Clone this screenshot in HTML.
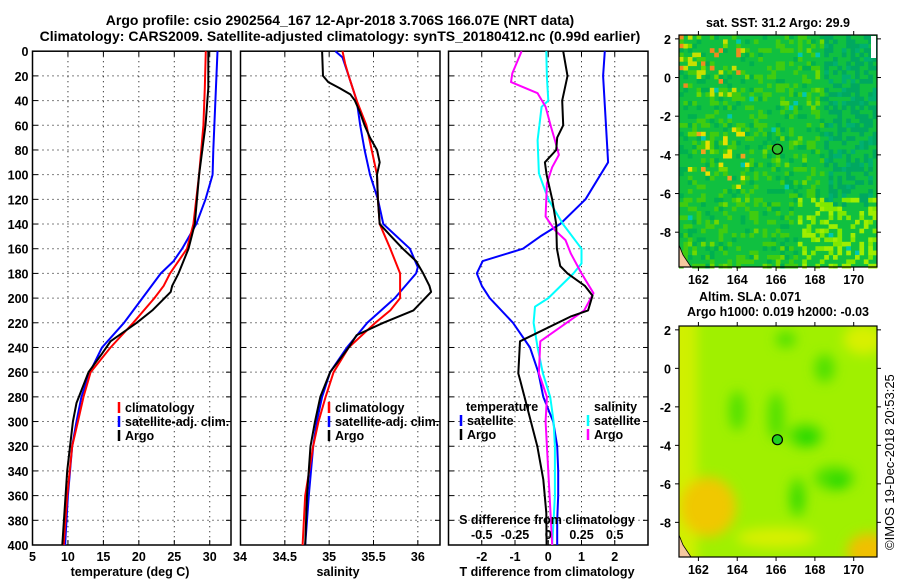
<!DOCTYPE html>
<html><head><meta charset="utf-8"><style>
body{margin:0;background:#fff}
svg{display:block;font-family:"Liberation Sans",Arial,sans-serif;font-weight:bold;font-size:12.5px}
</style></head><body>
<svg id="fig" width="900" height="580" viewBox="0 0 900 580" xmlns="http://www.w3.org/2000/svg">
<text x="340" y="25" text-anchor="middle" font-size="14">Argo profile: csio 2902564_167 12-Apr-2018 3.706S 166.07E (NRT data)</text>
<text x="340" y="41" text-anchor="middle" font-size="14">Climatology: CARS2009. Satellite-adjusted climatology: synTS_20180412.nc (0.99d earlier)</text>
<g id="p1"></g>
<g id="p2"></g>
<g id="p3"></g>
<g id="m1"></g>
<g id="m2"></g>
<text x="778" y="27" text-anchor="middle">sat. SST: 31.2 Argo: 29.9</text>
<text x="750" y="301" text-anchor="middle">Altim. SLA: 0.071</text>
<text x="778" y="316" text-anchor="middle">Argo h1000: 0.019 h2000: -0.03</text>
<text transform="translate(894,550) rotate(-90)" font-weight="normal" font-size="13">©IMOS 19-Dec-2018 20:53:25</text>
</svg>
<script>
// ---- data ----
const depthTicks=[0,20,40,60,80,100,120,140,160,180,200,220,240,260,280,300,320,340,360,380,400];
const tempTicks=[5,10,15,20,25,30];
const salTicks=[34,34.5,35,35.5,36];
const tdiffTicks=[-2,-1,0,1,2];
const sdiffTicks=[-0.5,-0.25,0,0.25,0.5];
const sdiffLabels=["-0.5","-0.25","0","0.25","0.5"];
const climTDepth=[0,30,60,100,140,160,180,190,200,220,240,260,280,300,320,360,400];
const climT=[29.45,29.3,29.1,28.5,27.7,26.8,24.4,23.5,22.2,19.2,16,13.2,12.2,11.4,10.6,9.9,9.4];
const argoTDepth=[0,30,60,100,140,160,180,190,195,210,220,235,245,260,285,300,340,400];
const argoT=[29.8,29.8,29.4,28.5,27.9,27,25.6,24.7,24.5,21.9,19.7,16,14.8,12.9,11.2,10.7,9.9,9.2];
const satTDepth=[0,80,100,120,140,160,170,180,200,220,240,260,280,300,320,360,400];
const satT=[31.1,30.5,30.4,29.4,28.1,26.1,24.9,23.1,20.5,17.9,14.8,13.1,11.9,11.2,10.6,10,9.6];
const climSDepth=[0,10,20,40,60,80,100,120,140,160,180,200,210,220,240,260,280,300,320,360,400];
const climS=[35.15,35.18,35.22,35.31,35.42,35.48,35.54,35.55,35.57,35.69,35.8,35.8,35.69,35.52,35.22,35.05,34.96,34.88,34.82,34.73,34.7];
const argoSDepth=[0,20,25,30,35,40,50,60,70,80,90,100,120,140,150,160,170,180,190,195,210,220,230,240,260,280,300,320,360,400];
const argoS=[34.92,34.93,34.99,35.12,35.24,35.29,35.35,35.4,35.46,35.54,35.57,35.54,35.55,35.57,35.7,35.83,35.98,36.06,36.13,36.15,35.95,35.61,35.31,35.22,35.01,34.9,34.84,34.79,34.75,34.73];
const satSDepth=[0,5,20,40,60,80,100,120,140,160,175,180,200,220,240,260,280,300,320,360,400];
const satS=[35.07,35.15,35.22,35.31,35.35,35.4,35.46,35.55,35.61,35.91,36.0,35.98,35.74,35.43,35.2,35.01,34.92,34.86,34.82,34.77,34.73];
const satTdDepth=[0,20,80,90,100,120,140,150,160,170,180,190,200,220,240,260,280,300,320,340,360,380,400];
const satTd=[1.7,1.65,1.78,1.8,1.57,1.12,0.36,-0.24,-0.76,-1.97,-2.15,-2.0,-1.76,-1.06,-0.55,-0.3,-0.15,0.15,0.27,0.3,0.3,0.27,0.27];
const argoTdDepth=[0,20,40,60,70,80,90,100,120,140,160,174,180,190,198,210,215,235,261,266,320,347,374,400];
const argoTd=[0.45,0.58,0.42,0.45,0.27,0.24,-0.1,-0.05,0.12,0.24,0.26,0.36,0.58,1.1,1.33,1.2,0.67,-0.85,-0.9,-0.85,-0.33,-0.15,-0.06,-0.05];
const satSdDepth=[0,21,40,45,72,99,120,140,160,172,180,200,207,220,240,261,280,300,320,360,380,400];
const satSd=[-0.015,-0.01,0,-0.05,-0.08,-0.07,0,0.11,0.25,0.25,0.19,0,-0.1,-0.11,-0.08,-0.04,0.015,0.04,0.05,0.05,0.04,0.03];
const argoSdDepth=[0,18,25,34,45,61,72,84,94,107,134,145,153,164,180,196,210,235,261,280,300,320,360,400];
const argoSd=[-0.2,-0.27,-0.28,-0.08,-0.02,0.02,0.05,0.08,0.03,-0.01,-0.02,0.05,0.13,0.17,0.25,0.34,0.27,-0.06,-0.07,-0.01,-0.02,-0.01,0.01,0.03];
const lonTicks=[162,164,166,168,170];
const latTicks=[2,0,-2,-4,-6,-8];
const argoLon=166.07, argoLat=-3.706;

// ---- helpers ----
const NS="http://www.w3.org/2000/svg";
function mk(parent,tag,attrs,txt){const e=document.createElementNS(NS,tag);for(const k in attrs)e.setAttribute(k,attrs[k]);if(txt!==undefined)e.textContent=txt;parent.appendChild(e);return e;}
const PT=51.2,PB=545;
const yD=d=>PT+d*(PB-PT)/400;
function lin(d0,d1,r0,r1){return v=>r0+(v-d0)*(r1-r0)/(d1-d0);}
function frame(g,x0,x1,xs,ticks,labels,ylabels){
  depthTicks.forEach(d=>{const y=yD(d);
    if(d>0&&d<400){const l=mk(g,'line',{x1:x0,x2:x1,y1:y,y2:y,stroke:'#000','stroke-width':1,'stroke-dasharray':'1,4'});
      }
    mk(g,'line',{x1:x0,x2:x0+5,y1:y,y2:y,stroke:'#000'});mk(g,'line',{x1:x1-5,x2:x1,y1:y,y2:y,stroke:'#000'});
    if(ylabels){const t=mk(g,'text',{x:x0-4,y:y+5,'text-anchor':'end'},String(d));
      }
  });
  ticks.forEach((v,i)=>{const x=xs(v);
    const l=mk(g,'line',{x1:x,x2:x,y1:PT,y2:PB,stroke:'#000','stroke-dasharray':'1,4'});
    
    mk(g,'line',{x1:x,x2:x,y1:PB-5,y2:PB,stroke:'#000'});mk(g,'line',{x1:x,x2:x,y1:PT,y2:PT+5,stroke:'#000'});
    if(labels){const t=mk(g,'text',{x:x,y:561,'text-anchor':'middle'},labels[i]);
      }
  });
  const r=mk(g,'rect',{x:x0,y:PT,width:x1-x0,height:PB-PT,fill:'none',stroke:'#000','stroke-width':1.5});
  
}
function series(g,xs,vals,depths,color,w,name){
  const pts=vals.map((v,i)=>xs(v).toFixed(1)+','+yD(depths[i]).toFixed(1)).join(' ');
  const p=mk(g,'polyline',{points:pts,fill:'none',stroke:color,'stroke-width':w,'stroke-linejoin':'round'});
  
}
function legend(g,x,y,color,label,name){
  mk(g,'line',{x1:x,x2:x,y1:y-10,y2:y+1,stroke:color,'stroke-width':2.5});
  const t=mk(g,'text',{x:x+6,y:y},label);
  
}
// ---- panel 1 ----
const g1=document.getElementById('p1');
const xT=lin(5,33,32.5,231);
frame(g1,32.5,231,xT,tempTicks,tempTicks.map(String),true);
series(g1,xT,satT,satTDepth,'#0000ff',2,'satellite-adj-temperature-line');
series(g1,xT,climT,climTDepth,'#ff0000',2,'climatology-temperature-line');
series(g1,xT,argoT,argoTDepth,'#000',2,'argo-temperature-line');
let t=mk(g1,'text',{x:240,y:561,'text-anchor':'middle'},'34');
t=mk(g1,'text',{x:130,y:576,'text-anchor':'middle'},'temperature (deg C)');
legend(g1,119,412,'#ff0000','climatology','legend-climatology');
legend(g1,119,426,'#0000ff','satellite-adj. clim.','legend-satellite-adj');
legend(g1,119,440,'#000','Argo','legend-argo');
// ---- panel 2 ----
const g2=document.getElementById('p2');
const xS=lin(34,36.25,240.5,440);
frame(g2,240.5,440,xS,salTicks,null,false);
[34.5,35,35.5,36].forEach(v=>{const tt=mk(g2,'text',{x:xS(v),y:561,'text-anchor':'middle'},String(v));});
series(g2,xS,satS,satSDepth,'#0000ff',2,'satellite-adj-salinity-line');
series(g2,xS,climS,climSDepth,'#ff0000',2,'climatology-salinity-line');
series(g2,xS,argoS,argoSDepth,'#000',2,'argo-salinity-line');
t=mk(g2,'text',{x:338,y:576,'text-anchor':'middle'},'salinity');
legend(g2,329,412,'#ff0000','climatology','legend-climatology');
legend(g2,329,426,'#0000ff','satellite-adj. clim.','legend-satellite-adj');
legend(g2,329,440,'#000','Argo','legend-argo');
// ---- panel 3 ----
const g3=document.getElementById('p3');
const xTd=lin(-3,3,448.5,648);
const xSd=lin(-0.75,0.75,448.5,648);
frame(g3,448.5,648,xTd,tdiffTicks,tdiffTicks.map(String),false);
series(g3,xTd,satTd,satTdDepth,'#0000ff',2,'satellite-temp-diff-line');
series(g3,xSd,satSd,satSdDepth,'#00ffff',2,'satellite-sal-diff-line');
series(g3,xSd,argoSd,argoSdDepth,'#ff00ff',2,'argo-sal-diff-line');
series(g3,xTd,argoTd,argoTdDepth,'#000',2,'argo-temp-diff-line');
t=mk(g3,'text',{x:466,y:411},'temperature');
t=mk(g3,'text',{x:594,y:411},'salinity');
legend(g3,461,425,'#0000ff','satellite','legend-temp-satellite');
legend(g3,461,439,'#000','Argo','legend-temp-argo');
legend(g3,588,425,'#00ffff','satellite','legend-sal-satellite');
legend(g3,588,439,'#ff00ff','Argo','legend-sal-argo');
t=mk(g3,'text',{x:547,y:524,'text-anchor':'middle'},'S difference from climatology');
sdiffTicks.forEach((v,i)=>{const tt=mk(g3,'text',{x:xSd(v),y:539,'text-anchor':'middle'},sdiffLabels[i]);});
t=mk(g3,'text',{x:547,y:576,'text-anchor':'middle'},'T difference from climatology');
// ---- maps ----
const MX0=679,MX1=877,LON0=161,LON1=171.2,LAT0=2.2,LAT1=-9.8;
const lonX=lin(LON0,LON1,MX0,MX1);
function hash(i,j){const s=Math.sin(i*12.9898+j*78.233)*43758.5453;return s-Math.floor(s);}
function mapAxes(g,top,bot,fill){
  const latY=lin(LAT0,LAT1,top,bot);
  lonTicks.forEach(v=>{const x=lonX(v);mk(g,'line',{x1:x,x2:x,y1:top,y2:top-4,stroke:'#000'});mk(g,'line',{x1:x,x2:x,y1:bot,y2:bot+4,stroke:'#000'});
    const tt=mk(g,'text',{x:x,y:bot+17,'text-anchor':'middle'},String(v));});
  latTicks.forEach(v=>{const y=latY(v);mk(g,'line',{x1:MX0,x2:MX0-4,y1:y,y2:y,stroke:'#000'});mk(g,'line',{x1:MX1,x2:MX1+4,y1:y,y2:y,stroke:'#000'});
    const tt=mk(g,'text',{x:MX0-8,y:y+5,'text-anchor':'end'},String(v));});
  mk(g,'path',{d:`M${MX0},${bot-22} l4,10 l8,12 l-12,0 z`,fill:'#f5c8a0',stroke:'#000','stroke-width':0.8});
  const c=mk(g,'circle',{cx:lonX(argoLon),cy:latY(argoLat),r:5,fill:fill,stroke:'#000','stroke-width':1.2});
  
  const r=mk(g,'rect',{x:MX0,y:top,width:MX1-MX0,height:bot-top,fill:'none',stroke:'#000','stroke-width':1.2});
  
}
// SST map texture
const m1=document.getElementById('m1');
const T1=35,B1=267,cs=4.4;
mk(m1,'rect',{x:MX0,y:T1,width:MX1-MX0,height:B1-T1,fill:'#10c040'});
for(let i=0;i<45;i++)for(let j=0;j<53;j++){
  const h=hash(i,j),h2=hash(j+7,i+3);let c;
  const left=i<16, right=i>32, lowR=i>26&&j>36;
  if(left&&j>20&&j<35&&h<0.09)c=h2<0.35?'#f0a020':'#e8e000';
  else if(left&&j<14&&h<0.14)c=h2<0.4?'#f08a20':'#c8e000';
  else if(lowR&&h<0.4)c=h2<0.5?'#80e800':'#a0ee00';
  else if(right&&j<40&&h<0.5)c=h2<0.3?'#00b070':'#00a860';
  else if(h<0.25)c='#40cc10';
  else if(h<0.36)c='#00b050';
  else if(h<0.40)c='#70d800';
  else if(h<0.41)c='#00c8b0';
  else continue;
  mk(m1,'rect',{x:(MX0+i*cs).toFixed(1),y:(T1+j*cs).toFixed(1),width:cs+0.3,height:cs+0.3,fill:c});
}
mk(m1,'rect',{x:871,y:36,width:5,height:22,fill:'#fff'});
mapAxes(m1,T1,B1,'#30c030');
// SLA map
const m2=document.getElementById('m2');
const T2=326,B2=557;
const latY2=lin(LAT0,LAT1,T2,B2);
const defs=mk(m2,'defs',{});
const f=mk(defs,'filter',{id:'bl',x:'-50%',y:'-50%',width:'200%',height:'200%'});
mk(f,'feGaussianBlur',{stdDeviation:6});
const cp=mk(defs,'clipPath',{id:'cl'});mk(cp,'rect',{x:MX0,y:T2,width:MX1-MX0,height:B2-T2});
const gg=mk(m2,'g',{'clip-path':'url(#cl)'});
mk(gg,'rect',{x:MX0,y:T2,width:MX1-MX0,height:B2-T2,fill:'#a0f000'});
const gb=mk(gg,'g',{filter:'url(#bl)'});
mk(gb,'rect',{x:MX0-20,y:T2-20,width:38,height:260,fill:'#d0f000'});
mk(gb,'ellipse',{cx:lonX(162.5),cy:latY2(-7.2),rx:28,ry:30,fill:'#f0c800'});
mk(gb,'ellipse',{cx:lonX(170.8),cy:latY2(-9.5),rx:22,ry:18,fill:'#f0c000'});
mk(gb,'ellipse',{cx:lonX(166),cy:latY2(-8.8),rx:40,ry:10,fill:'#d8f000'});
mk(gb,'ellipse',{cx:lonX(170.5),cy:latY2(1.5),rx:20,ry:15,fill:'#d8f000'});
[[167.5,-3.5,18,12],[169,-5.7,20,12],[167.1,-6.7,8,20],[166,-2.5,8,24],[164,-2.2,8,20],[168.5,0,10,14],[166.5,1.5,10,8]].forEach(b=>{
  mk(gb,'ellipse',{cx:lonX(b[0]),cy:latY2(b[1]),rx:b[2],ry:b[3],fill:'#50e000'});
});
mk(gb,'ellipse',{cx:lonX(167.6),cy:latY2(-3.6),rx:9,ry:7,fill:'#10d800'});
mk(gb,'ellipse',{cx:lonX(169.2),cy:latY2(-5.9),rx:9,ry:6,fill:'#10d800'});
mk(gb,'ellipse',{cx:lonX(167.1),cy:latY2(-6.8),rx:4,ry:10,fill:'#20d800'});
mapAxes(m2,T2,B2,'#20d020');
</script>
</body></html>
